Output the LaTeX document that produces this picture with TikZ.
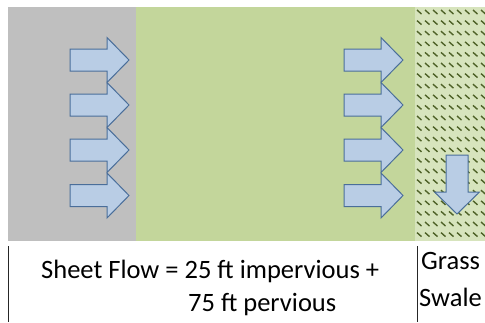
\documentclass[tikz,border=0pt]{standalone}
\usepackage{fontspec}
\setmainfont{Carlito}
\usetikzlibrary{positioning}

\definecolor{paved}{HTML}{BFBFBF}
\definecolor{lawn}{HTML}{C3D69B}
\definecolor{swale}{HTML}{D7E4BD}
\definecolor{blade}{HTML}{4F6228}
\definecolor{flowfill}{HTML}{B9CDE5}
\definecolor{flowedge}{HTML}{4A6E9A}

\tikzset{
  flow/.pic={
    \draw[flowedge, fill=flowfill, line width=1pt, line join=miter]
      (0,-11) -- (37,-11) -- (37,-22.5) -- (59,0) -- (37,22.5) -- (37,11) -- (0,11) -- cycle;
  },
  lbl/.style={font=\fontsize{26.5}{32}\selectfont, inner sep=0pt, anchor=base west},
  divider/.style={line width=0.8pt, black!85}
}

\begin{document}
\begin{tikzpicture}[x=1pt, y=-1pt]
  \useasboundingbox (0,0) rectangle (485,322);
  % ground strips
  \fill[paved] (8,7) rectangle (136,241);
  \fill[lawn] (136,7) rectangle (415,241);
  \fill[swale] (415,7) rectangle (485,241);
  % grass hatch
  \foreach \r in {0,...,21} {
    \foreach \c in {0,...,8} {
      \draw[blade, line width=1.4pt] ({417+\c*8},{10+\r*10.6}) -- ++(4.5,4);
    }
  }
  % sheet flow arrows
  \foreach \yy in {60,105,150,195.5} {
    \pic at (70,\yy) {flow};
    \pic at (344,\yy) {flow};
  }
  % swale flow
  \pic[rotate=-90] at (457,155) {flow};
  % labels
  \coordinate (lefttop) at (8,246);
  \coordinate (leftbot) at (8,322);
  \coordinate (midtop) at (417,246);
  \coordinate (midbot) at (417,322);
  \draw[divider] (lefttop) -- (leftbot);
  \draw[divider] (midtop) -- (midbot);
  \node[lbl] (sheet) at (41,278) {Sheet Flow = 25 ft impervious +};
  \node[lbl] (pervious) at (188,311) {75 ft pervious};
  \node[lbl] (grass) at (421,269) {Grass};
  \node[lbl] (swaletxt) at (419,306) {Swale};
\end{tikzpicture}
\end{document}
